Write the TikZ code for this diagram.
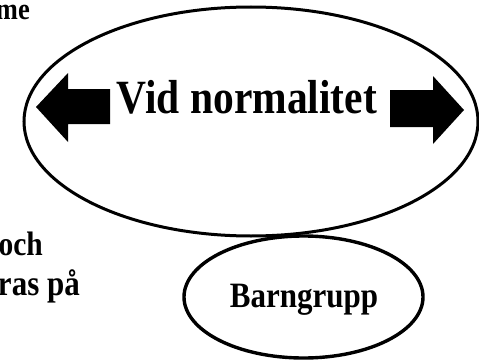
\documentclass[tikz,border=0pt]{standalone}
\usepackage{graphicx}
\usepackage{fontspec}
\setmainfont{Liberation Serif}
\newcommand{\tallt}[1]{\scalebox{1}[1.15]{#1}}
\begin{document}
\begin{tikzpicture}[x=1pt,y=-1pt,
  ring/.style={draw=black,line width=3pt},
  bigarrow/.style={fill=black,draw=none},
  lbl/.style={font=\bfseries,inner sep=0pt}]
\useasboundingbox (0,0) rectangle (479,361);
\begin{scope}
\clip (0,0) rectangle (479,361);
% big ellipse
\draw[ring] (251,121.5) ellipse [x radius=227, y radius=114.5];
% small ellipse
\draw[ring,line width=3.4pt] (303.5,297) ellipse [x radius=119.5, y radius=61];
% left arrow
\fill[bigarrow] (36,107) -- (68,73) -- (68,89) -- (110,89) -- (110,124) -- (68,124) -- (68,142) -- cycle;
% right arrow
\fill[bigarrow] (464,110) -- (433,76) -- (433,90) -- (390,90) -- (390,127) -- (433,127) -- (433,144) -- cycle;
\node[lbl,anchor=base east,font=\bfseries\fontsize{26.5}{30}\selectfont] (me) at (30,20) {\tallt{me}};
\node[lbl,anchor=base east,font=\bfseries\fontsize{29.5}{32}\selectfont] (och) at (43,255) {\tallt{och}};
\node[lbl,anchor=base east,font=\bfseries\fontsize{31}{34}\selectfont] (ras) at (80,295) {\tallt{ras på}};
\end{scope}
\node[lbl,anchor=base,font=\bfseries\fontsize{41.5}{46}\selectfont] (vid) at (247,113) {\tallt{Vid normalitet}};
\node[lbl,anchor=base,font=\bfseries\fontsize{31}{34}\selectfont] (barn) at (304,307) {\tallt{Barngrupp}};
\end{tikzpicture}
\end{document}
